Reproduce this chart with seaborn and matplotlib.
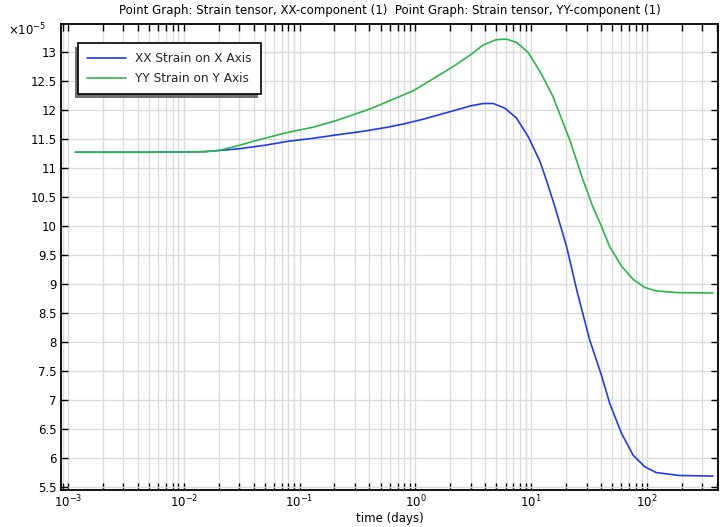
import numpy as np
import pandas as pd
import matplotlib
matplotlib.use("Agg")
import matplotlib.pyplot as plt
import matplotlib.ticker as mticker
from matplotlib.patches import Rectangle
import seaborn as sns

# ---- data (strain values in units of 1e-5) ----
xx_time = [1.16e-3, 0.005, 0.01, 0.015, 0.02, 0.03, 0.05, 0.08, 0.13, 0.21, 0.35,
           0.57, 0.8, 1.17, 2.0, 3.0, 3.85, 4.7, 5.9, 7.45, 9.4, 11.9, 13.5, 16,
           20.2, 25, 32, 40, 47.6, 60, 75.7, 95.5, 120, 190, 370]
xx_strain = [11.27, 11.27, 11.275, 11.28, 11.30, 11.33, 11.39, 11.46, 11.51, 11.57, 11.63,
             11.70, 11.76, 11.84, 11.97, 12.07, 12.11, 12.11, 12.03, 11.86, 11.54, 11.11, 10.79, 10.33,
             9.64, 8.85, 8.03, 7.45, 6.94, 6.43, 6.05, 5.85, 5.75, 5.70, 5.69]

yy_time = [1.16e-3, 0.005, 0.01, 0.015, 0.02, 0.029, 0.04, 0.078, 0.13, 0.21, 0.41,
           0.96, 2.13, 3.0, 3.85, 5.0, 6.1, 7.5, 9.4, 11.9, 15.4, 21.5, 28, 34, 40.4,
           47.6, 60, 75.7, 95.5, 120, 190, 370]
yy_strain = [11.27, 11.27, 11.275, 11.28, 11.30, 11.38, 11.46, 11.61, 11.70, 11.82, 12.02,
             12.33, 12.75, 12.95, 13.12, 13.21, 13.22, 13.16, 12.99, 12.66, 12.23, 11.48, 10.79, 10.33, 9.99,
             9.64, 9.31, 9.08, 8.94, 8.88, 8.85, 8.845]

series_names = ["XX Strain on X Axis", "YY Strain on Y Axis"]
title_text = "Point Graph: Strain tensor, XX-component (1)  Point Graph: Strain tensor, YY-component (1)"
x_label = "time (days)"
y_ticks = [5.5, 6, 6.5, 7, 7.5, 8, 8.5, 9, 9.5, 10, 10.5, 11, 11.5, 12, 12.5, 13]

df = pd.concat([
    pd.DataFrame({"time": xx_time, "strain": xx_strain, "series": series_names[0]}),
    pd.DataFrame({"time": yy_time, "strain": yy_strain, "series": series_names[1]}),
])

sns.set_theme(style="white")
plt.rcParams["font.family"] = ["DejaVu Sans"]

fig = plt.figure(figsize=(7.2, 5.27), dpi=100)
ax = fig.add_axes([61 / 720, 1 - 490 / 527, (718 - 61) / 720, (490 - 24) / 527])

palette = {series_names[0]: "#1f3cf5", series_names[1]: "#2bb84a"}
sns.lineplot(data=df, x="time", y="strain", hue="series", palette=palette,
             ax=ax, linewidth=1.2, sort=False, estimator=None)

ax.set_xscale("log")
ax.set_xlim(10 ** -3.06, 10 ** 2.612)
ax.set_ylim(5.45, 13.48)
ax.set_yticks(y_ticks)
ax.yaxis.set_major_formatter(mticker.FuncFormatter(lambda v, p: f"{v:g}"))
ax.xaxis.set_major_locator(mticker.LogLocator(base=10, numticks=20))
ax.xaxis.set_minor_locator(mticker.LogLocator(base=10, subs=np.arange(2, 10), numticks=20))
ax.xaxis.set_minor_formatter(mticker.NullFormatter())

ax.grid(True, which="major", color="#dcdcdc", linewidth=1.0)
ax.grid(True, which="minor", axis="x", color="#dcdcdc", linewidth=1.0)
ax.set_axisbelow(True)

for s in ax.spines.values():
    s.set_color("black")
    s.set_linewidth(1.3)

ax.tick_params(axis="both", which="major", direction="in", length=5, width=1,
               color="black", top=True, right=True, bottom=True, left=True,
               labelsize=8.5, labelcolor="black", pad=3)
ax.tick_params(axis="x", which="minor", direction="in", length=5, width=1,
               color="black", top=True, bottom=True)

ax.set_xlabel(x_label, fontsize=8.5, color="black", labelpad=1)
ax.set_ylabel("")
ax.set_title(title_text, fontsize=8.5, color="black", pad=7)
fig.text(8 / 720, 1 - 30 / 527, r"$\times10^{-5}$", fontsize=8.5, color="black", va="center")

leg = ax.legend(loc="upper left", bbox_to_anchor=(0.026, 0.959), borderaxespad=0,
                fontsize=8.7, frameon=True, fancybox=False, shadow=False,
                edgecolor="black", framealpha=1, handlelength=3.2,
                borderpad=0.75, labelspacing=0.6)
leg.get_frame().set_linewidth(1.2)
leg.set_zorder(10)

# drop shadow offset to the lower-left, as in the reference
fig.canvas.draw()
bb = leg.get_frame().get_window_extent().transformed(fig.transFigure.inverted())
shadow = Rectangle((bb.x0 - 3 / 720, bb.y0 - 4 / 527), bb.width, bb.height,
                   transform=fig.transFigure, facecolor="#707070", edgecolor="none",
                   zorder=9)
ax.add_artist(shadow)
shadow.set_clip_on(False)

fig.savefig("out.png", dpi=100)
